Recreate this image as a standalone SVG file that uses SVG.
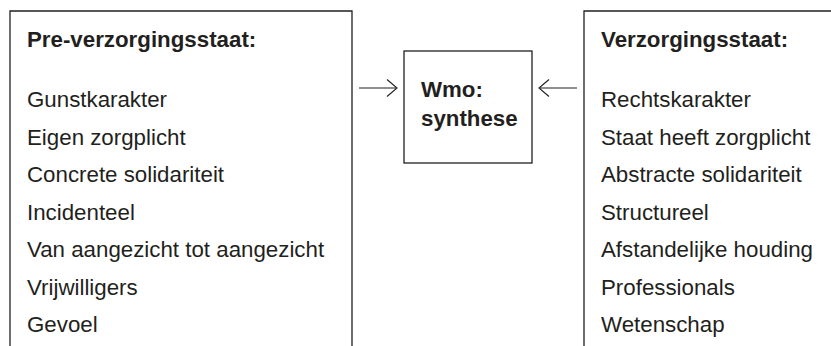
<svg xmlns="http://www.w3.org/2000/svg" width="831" height="346" viewBox="0 0 831 346">
<style>
.box{fill:none;stroke:#231f20;stroke-width:1.3}
.t{font-family:"Liberation Sans",Arial,sans-serif;font-size:22.3px;fill:#231f20}
.b{font-weight:bold}
.c{fill:none;stroke:#231f20;stroke-width:1.1}
</style>
<defs>
<marker id="arr" viewBox="0 0 12 20" refX="11" refY="10" markerWidth="12" markerHeight="20" markerUnits="userSpaceOnUse" orient="auto">
<path d="M1,1.5 L11,10 L1,18.5" fill="none" stroke="#231f20" stroke-width="1.1"/>
</marker>
</defs>
<rect width="831" height="346" fill="#ffffff"/>
<g id="pre">
<path class="box" d="M10,346 V11 H352 V346"/>
<text class="t b" x="27" y="47">Pre-verzorgingsstaat:</text>
<text class="t" x="27" y="107">Gunstkarakter</text>
<text class="t" x="27" y="144.5">Eigen zorgplicht</text>
<text class="t" x="27" y="182">Concrete solidariteit</text>
<text class="t" x="27" y="219.5">Incidenteel</text>
<text class="t" x="27" y="257">Van aangezicht tot aangezicht</text>
<text class="t" x="27" y="294.5">Vrijwilligers</text>
<text class="t" x="27" y="332">Gevoel</text>
</g>
<g id="wmo">
<rect class="box" x="404" y="51" width="128" height="112"/>
<text class="t b" x="421" y="97">Wmo:</text>
<text class="t b" x="421" y="126">synthese</text>
</g>
<g id="verz">
<path class="box" d="M584,346 V11 H831"/>
<text class="t b" x="601" y="47">Verzorgingsstaat:</text>
<text class="t" x="601" y="107">Rechtskarakter</text>
<text class="t" x="601" y="144.5">Staat heeft zorgplicht</text>
<text class="t" x="601" y="182">Abstracte solidariteit</text>
<text class="t" x="601" y="219.5">Structureel</text>
<text class="t" x="601" y="257">Afstandelijke houding</text>
<text class="t" x="601" y="294.5">Professionals</text>
<text class="t" x="601" y="332">Wetenschap</text>
</g>
<g id="connectors">
<line class="c" x1="359" y1="88" x2="397" y2="88" marker-end="url(#arr)"/>
<line class="c" x1="577" y1="88" x2="539" y2="88" marker-end="url(#arr)"/>
</g>
</svg>
